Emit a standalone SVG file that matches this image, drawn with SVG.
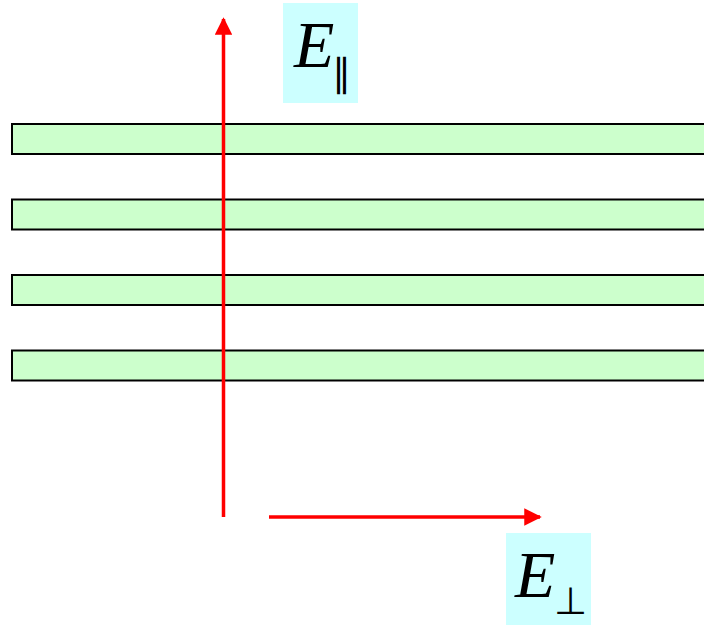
<svg xmlns="http://www.w3.org/2000/svg" width="704" height="626" viewBox="0 0 704 626">
<style>
.bar{fill:#CCFFCC;stroke:#000;stroke-width:2}
.lbl{fill:#CCFFFF}
.e{font-family:"Liberation Serif",serif;font-style:italic;font-size:66px;fill:#000}
.sub{font-family:"DejaVu Sans",sans-serif;font-weight:200;font-size:38px;fill:#000}
.arr{stroke:#FF0000;stroke-width:3.5;fill:none}
</style>
<defs>
<marker id="ah" markerWidth="5" markerHeight="5" refX="4.5" refY="2.5" orient="auto" markerUnits="strokeWidth" viewBox="0 0 5 5">
<path d="M0,0 L5,2.5 L0,5 Z" fill="#FF0000"/>
</marker>
</defs>
<g id="layer1"><rect class="bar" x="12" y="124" width="700" height="30"/></g>
<g id="layer2"><rect class="bar" x="12" y="199.5" width="700" height="30"/></g>
<g id="layer3"><rect class="bar" x="12" y="275" width="700" height="30"/></g>
<g id="layer4"><rect class="bar" x="12" y="350.5" width="700" height="30"/></g>
<g id="connectors">
<line class="arr" x1="223.5" y1="517" x2="223.5" y2="19" marker-end="url(#ah)"/>
<line class="arr" x1="269" y1="517" x2="540" y2="517" marker-end="url(#ah)"/>
</g>
<g id="label-parallel">
<rect class="lbl" x="283" y="3" width="75" height="100"/>
<text class="e" x="294" y="67">E</text>
<text class="sub" x="332" y="86">∥</text>
</g>
<g id="label-perp">
<rect class="lbl" x="506" y="533" width="85" height="92"/>
<text class="e" x="515" y="597">E</text>
<text class="sub" x="554" y="614">⊥</text>
</g>
</svg>
